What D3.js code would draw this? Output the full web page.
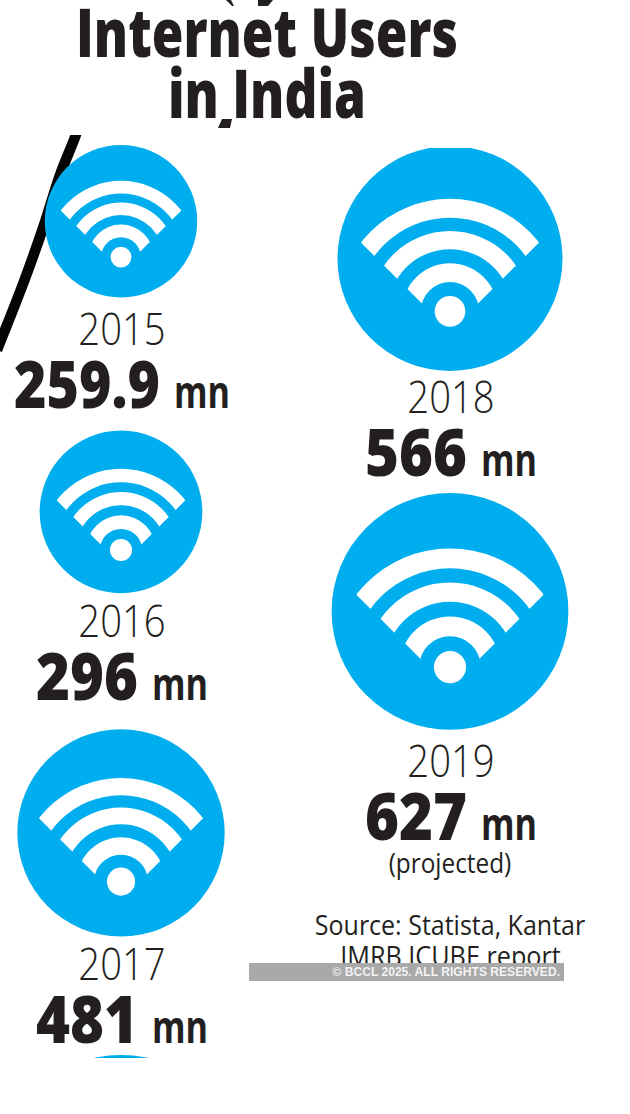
<!DOCTYPE html>
<html><head><meta charset="utf-8">
<script src="https://cdnjs.cloudflare.com/ajax/libs/d3/7.8.5/d3.min.js"></script>
<style>html,body{margin:0;padding:0;background:#fff}svg{display:block}</style>
</head><body><svg id="c" width="630" height="1114"></svg>
<script>
// ---- data ----
const years = ["2015","2016","2017","2018","2019"];
const users = [259.9,296,481,566,627];
const valueLabels = ["259.9","296","481","566","627"];
const unit = "mn";
const titleLines = ["Internet Users","in India"];
const sourceLines = ["Source: Statista, Kantar","IMRB ICUBE report"];
const note = "(projected)";
const watermark = "© BCCL 2025. ALL RIGHTS RESERVED.";

// ---- layout ----
const W=630,H=1114,INK="#231f20",BLUE="#00aeef";
const FONT="'Open Sans','Noto Sans',sans-serif";
const columnOf=[0,0,0,1,1];
const x=d3.scaleOrdinal().domain([0,1]).range([121,450]);
const columnTop=[145,146];
const gapBefore=[0,133,136,0,122];
const yearDrop=[48,44,43,42,47];
const r=d3.scaleSqrt().domain([0,627]).range([0,118.4]);
const svg=d3.select("#c");
svg.append("rect").attr("width",W).attr("height",H).attr("fill","#fff");
const defs=svg.append("defs");

// decorative swoosh fragments, behind everything
defs.append("clipPath").attr("id","swooshClip").append("rect").attr("x",0).attr("y",135).attr("width",W).attr("height",H);
const line=d3.line().curve(d3.curveCatmullRom);
svg.append("path").attr("d",line([[79,124],[75.8,135],[60,175],[44,225],[24.5,280],[-3,350]]))
  .attr("fill","none").attr("stroke","#050505").attr("stroke-width",10.5).attr("clip-path","url(#swooshClip)");
svg.append("path").attr("d",d3.line()([[218,128],[230,128],[232,119],[222,119]])+"Z").attr("fill",INK);
svg.append("path").attr("d",d3.line()([[226,0],[231,0],[234,6],[232,6]])+"Z").attr("fill",INK);
svg.append("path").attr("d",d3.line()([[258,0],[273,0],[268,6],[258,6]])+"Z").attr("fill",INK);

function fitted(sel,ratio){
  sel.each(function(){
    const n=this.getComputedTextLength();
    d3.select(this).attr("textLength",n*ratio).attr("lengthAdjust","spacingAndGlyphs");
  });
  return sel;
}
function centered(t,cx,base,size,weight,ratio,color){
  const s=svg.append("text").text(t).attr("x",cx).attr("y",base)
    .attr("text-anchor","middle").attr("font-family",FONT)
    .attr("font-size",size).attr("font-weight",weight).attr("fill",color||INK);
  return fitted(s,ratio);
}

// title
const titleBase=[57,118];
titleLines.forEach((t,i)=>centered(t,[267,267][i],titleBase[i],67,800,0.765));

// bubbles
const bandsRel=[[0.26,0.427],[0.552,0.714],[0.833,1.0]];
let cursor={0:columnTop[0],1:columnTop[1]};
const half=Math.PI;
years.forEach((yr,i)=>{
  const col=columnOf[i],rad=r(users[i]),cx=x(col);
  const top=cursor[col]+gapBefore[i],cy=top+rad,bottom=cy+rad;
  cursor[col]=bottom;
  const g=svg.append("g");
  const c=g.append("circle").attr("cx",cx).attr("cy",cy).attr("r",rad).attr("fill",BLUE);
  // 2018's circle is cut flat at the top in the source
  if(yr==="2018"){
    defs.append("clipPath").attr("id","clip2018").append("rect").attr("x",0).attr("y",148).attr("width",W).attr("height",H);
    c.attr("clip-path","url(#clip2018)");
  }
  // wifi glyph
  const oy=cy+rad*0.47, apex=oy+rad*0.18, reach=rad*1.3;
  const wid="wedge"+yr;
  defs.append("clipPath").attr("id",wid).append("path")
    .attr("d",d3.line()([[cx,apex],[cx-reach,apex-reach],[cx+reach,apex-reach]])+"Z");
  const arc=d3.arc().startAngle(-half/2).endAngle(half/2);
  const gl=g.append("g").attr("clip-path",`url(#${wid})`);
  bandsRel.forEach(b=>{
    gl.append("path").attr("transform",`translate(${cx},${oy})`)
      .attr("d",arc({innerRadius:b[0]*rad,outerRadius:b[1]*rad})).attr("fill","#fff");
  });
  g.append("circle").attr("cx",cx).attr("cy",oy).attr("r",rad*0.136).attr("fill","#fff");
  // labels
  const yb=bottom+yearDrop[i];
  centered(yr,cx+1,yb,45,300,0.85);
  const vb=yb+63;
  const val=svg.append("text").text(valueLabels[i]).attr("y",vb).attr("font-family",FONT)
    .attr("font-size",66).attr("font-weight",800).attr("fill",INK);
  const mn=svg.append("text").text(unit).attr("y",vb).attr("font-family",FONT)
    .attr("font-size",45).attr("font-weight",700).attr("fill",INK);
  const vRatio=valueLabels[i].length>3?0.84:0.88, mRatio=0.76;
  const vw=val.node().getComputedTextLength()*vRatio, mw=mn.node().getComputedTextLength()*mRatio, gap=14;
  const sx=cx+1-(vw+gap+mw)/2;
  fitted(val,vRatio).attr("x",sx);
  fitted(mn,mRatio).attr("x",sx+vw+gap);
  if(i===4) centered(note,cx,873,28,400,0.87);
});

// sliver of the next circle, cut by the crop
defs.append("clipPath").attr("id","sliver").append("rect").attr("x",0).attr("y",0).attr("width",W).attr("height",1058);
svg.append("circle").attr("cx",121).attr("cy",1178).attr("r",123).attr("fill",BLUE).attr("clip-path","url(#sliver)");

// source + watermark strip
centered(sourceLines[0],450,935,28,400,0.893);
centered(sourceLines[1],450.5,966,28,400,0.90);
svg.append("rect").attr("x",249).attr("y",963).attr("width",315).attr("height",18).attr("fill","#a9a9a9");
svg.append("text").text(watermark).attr("x",560).attr("y",975.5).attr("text-anchor","end")
  .attr("font-family","'Liberation Sans',Arial,sans-serif").attr("font-weight",700).attr("font-size",12.1).attr("fill","#fff").attr("fill-opacity",0.88);
</script></body></html>
